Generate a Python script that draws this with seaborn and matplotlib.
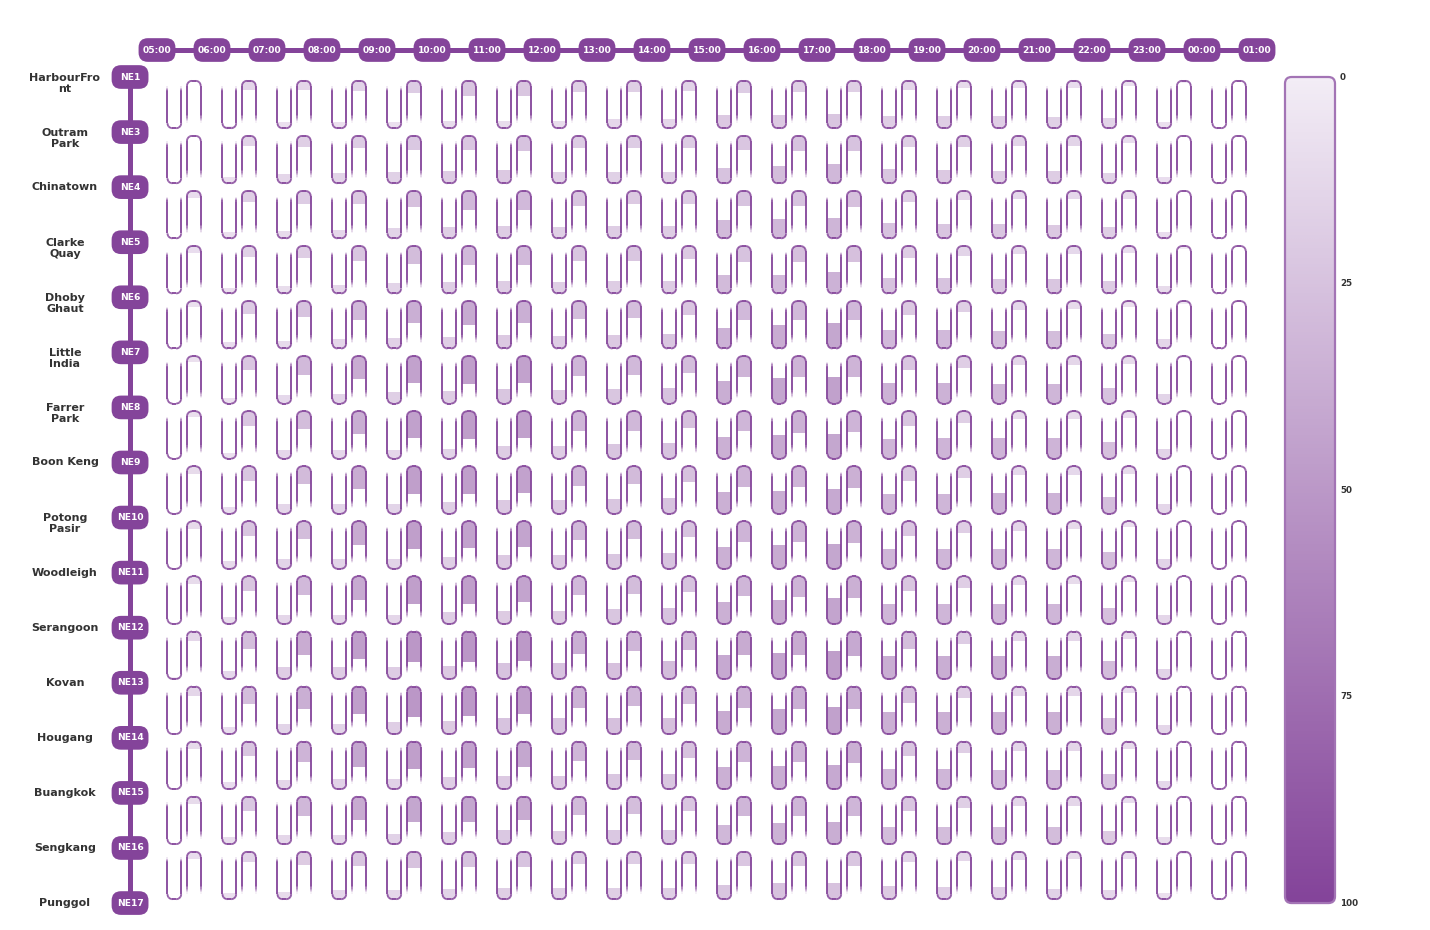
import numpy as np
import matplotlib
matplotlib.use("Agg")
import matplotlib.pyplot as plt
import seaborn as sns
from matplotlib.patches import FancyBboxPatch, Rectangle
from matplotlib.collections import LineCollection

sns.set_theme(style="white")
plt.rcParams['font.family'] = ['DejaVu Sans']

# ---------------- data ----------------
hours = ["05:00", "06:00", "07:00", "08:00", "09:00", "10:00", "11:00", "12:00",
         "13:00", "14:00", "15:00", "16:00", "17:00", "18:00", "19:00", "20:00",
         "21:00", "22:00", "23:00", "00:00", "01:00"]
codes = ["NE1", "NE3", "NE4", "NE5", "NE6", "NE7", "NE8", "NE9", "NE10", "NE11",
         "NE12", "NE13", "NE14", "NE15", "NE16", "NE17"]
stations = ["HarbourFro\nnt", "Outram\nPark", "Chinatown", "Clarke\nQuay", "Dhoby\nGhaut",
            "Little\nIndia", "Farrer\nPark", "Boon Keng", "Potong\nPasir", "Woodleigh",
            "Serangoon", "Kovan", "Hougang", "Buangkok", "Sengkang", "Punggol"]

# load towards Punggol (left glyph, filled from the bottom), per segment row / hour column
load_north = [
    [0, 6, 14, 14, 14, 17, 17, 17, 21, 21, 32, 32, 35, 28, 28, 28, 26, 24, 14, 0],
    [0, 14, 22, 24, 26, 29, 32, 26, 26, 26, 37, 42, 46, 35, 32, 29, 29, 24, 16, 0],
    [0, 14, 18, 21, 24, 27, 29, 27, 29, 29, 43, 46, 48, 37, 35, 35, 32, 27, 16, 0],
    [0, 14, 17, 21, 24, 27, 29, 27, 29, 29, 43, 45, 50, 37, 37, 35, 35, 29, 18, 0],
    [0, 16, 18, 22, 25, 28, 32, 30, 32, 35, 50, 55, 60, 45, 45, 42, 42, 35, 22, 0],
    [0, 14, 20, 24, 27, 29, 35, 32, 35, 37, 54, 60, 64, 50, 50, 47, 47, 37, 24, 0],
    [0, 14, 21, 21, 21, 24, 29, 29, 35, 37, 52, 57, 60, 47, 49, 49, 49, 39, 24, 0],
    [0, 16, 22, 24, 24, 27, 32, 32, 35, 37, 52, 54, 58, 47, 47, 50, 50, 41, 22, 0],
    [0, 18, 24, 24, 24, 27, 32, 32, 35, 37, 52, 56, 60, 47, 47, 47, 47, 41, 24, 0],
    [0, 17, 22, 22, 22, 28, 31, 31, 35, 37, 52, 56, 62, 47, 47, 47, 47, 39, 22, 0],
    [4, 20, 28, 29, 29, 32, 37, 37, 39, 42, 58, 62, 67, 54, 54, 54, 54, 42, 24, 0],
    [0, 16, 24, 24, 28, 31, 37, 37, 39, 39, 56, 60, 64, 52, 52, 52, 52, 39, 22, 0],
    [0, 16, 22, 25, 25, 28, 32, 32, 35, 35, 52, 54, 58, 47, 47, 45, 45, 37, 20, 0],
    [0, 17, 22, 22, 25, 28, 33, 31, 33, 33, 46, 51, 54, 42, 42, 42, 42, 31, 17, 0],
    [0, 14, 18, 21, 21, 24, 27, 27, 27, 27, 35, 38, 38, 31, 28, 28, 25, 21, 14, 0],
]
# load towards HarbourFront (right glyph, filled from the top)
load_south = [
    [3, 22, 22, 24, 30, 35, 35, 27, 27, 24, 30, 27, 27, 22, 18, 16, 16, 13, 5, 2],
    [2, 24, 27, 30, 33, 34, 37, 30, 30, 30, 34, 37, 37, 27, 27, 24, 24, 16, 3, 2],
    [16, 27, 30, 32, 39, 45, 45, 35, 32, 30, 37, 37, 39, 27, 22, 20, 20, 18, 3, 2],
    [16, 26, 29, 35, 42, 45, 45, 35, 35, 32, 37, 39, 39, 29, 24, 20, 20, 16, 7, 2],
    [13, 30, 37, 45, 53, 57, 53, 42, 40, 34, 45, 45, 45, 32, 27, 20, 18, 14, 6, 3],
    [14, 34, 45, 55, 63, 66, 63, 47, 45, 41, 49, 49, 49, 34, 28, 22, 22, 18, 5, 2],
    [14, 34, 42, 54, 64, 67, 64, 47, 46, 39, 47, 51, 49, 35, 27, 18, 18, 16, 3, 2],
    [18, 35, 43, 55, 66, 66, 63, 47, 43, 38, 49, 49, 52, 35, 28, 20, 20, 18, 3, 2],
    [18, 35, 42, 56, 66, 63, 62, 45, 42, 37, 49, 49, 51, 34, 28, 22, 18, 14, 2, 1],
    [18, 35, 45, 57, 66, 66, 62, 45, 42, 37, 47, 49, 52, 35, 28, 20, 18, 14, 2, 1],
    [22, 41, 55, 66, 72, 72, 70, 53, 47, 43, 56, 56, 58, 41, 30, 22, 22, 18, 5, 2],
    [22, 41, 53, 66, 72, 70, 66, 51, 47, 41, 51, 53, 53, 39, 28, 22, 22, 16, 3, 2],
    [18, 35, 49, 60, 66, 63, 60, 47, 43, 38, 49, 49, 52, 35, 28, 22, 22, 18, 3, 2],
    [18, 33, 46, 56, 60, 60, 56, 43, 41, 34, 47, 47, 47, 34, 27, 22, 22, 16, 3, 2],
    [16, 24, 31, 35, 38, 37, 37, 30, 30, 28, 34, 35, 35, 24, 22, 20, 18, 16, 6, 3],
]
cbar_ticks = [0, 25, 50, 75, 100]

# ---------------- style ----------------
PURPLE = "#84449a"
TEXT = "#333333"
cmap = sns.blend_palette(["#f3edf6", PURPLE], as_cmap=True)
FILL_ALPHA = 0.74

fig = plt.figure(figsize=(14.3, 9.3), dpi=100)
ax = fig.add_axes([0, 0, 1, 1])
XU, YU = 55.0, 55.07
X0PX, Y0PX = 157.0, 77.0
ax.set_xlim(-X0PX / XU, (1430 - X0PX) / XU)
ax.set_ylim((930 - Y0PX) / YU, -Y0PX / YU)
ax.axis("off")

n_st = len(codes)
n_hr = len(hours)

# ---- top hour line with pills ----
ax.plot([0, n_hr - 1], [-0.49, -0.49], color=PURPLE, lw=3.6, solid_capstyle="butt", zorder=1)
pw, ph = 0.67, 0.43
for i, h in enumerate(hours):
    p = FancyBboxPatch((i - pw / 2, -0.49 - ph / 2), pw, ph,
                       boxstyle="round,pad=0,rounding_size=0.17",
                       fc=PURPLE, ec="none", zorder=2)
    ax.add_patch(p)
    ax.text(i, -0.49, h, color="white", fontsize=6.6, fontweight="bold",
            ha="center", va="center", zorder=3)

# ---- left station line with pills ----
sx = -0.49
ax.plot([sx, sx], [0, n_st - 1], color=PURPLE, lw=3.6, solid_capstyle="butt", zorder=1)
for j, (code, name) in enumerate(zip(codes, stations)):
    p = FancyBboxPatch((sx - pw / 2, j - ph / 2), pw, ph,
                       boxstyle="round,pad=0,rounding_size=0.17",
                       fc=PURPLE, ec="none", zorder=2)
    ax.add_patch(p)
    ax.text(sx, j, code, color="white", fontsize=6.6, fontweight="bold",
            ha="center", va="center", zorder=3)
    nlines = name.count("\n") + 1
    if nlines == 1:
        ax.text(-1.673, j, name, color=TEXT, fontsize=8, fontweight="bold",
                ha="center", va="center")
    else:
        ax.text(-1.673, j - 0.075, name, color=TEXT, fontsize=8, fontweight="bold",
                ha="center", va="top", linespacing=1.1, multialignment="center")


# ---- glyph helpers ----
def u_polyline(x0, x1, top, bottom, r, n_side=30, n_arc=10):
    pts = []
    ys = np.linspace(top, bottom - r, n_side)
    pts += [(x0, y) for y in ys]
    t = np.linspace(np.pi, np.pi / 2, n_arc)
    pts += list(zip(x0 + r + r * np.cos(t), bottom - r + r * np.sin(t)))
    t = np.linspace(np.pi / 2, 0, n_arc)
    pts += list(zip(x1 - r + r * np.cos(t), bottom - r + r * np.sin(t)))
    ys = np.linspace(bottom - r, top, n_side)
    pts += [(x1, y) for y in ys]
    return np.array(pts)


H = 0.76
R = 0.09
FADE_L, FADE_R = 0.09, 0.15
rgb = np.array(matplotlib.colors.to_rgb(PURPLE))

segs_all, cols_all = [], []


def add_outline(x0, x1, top, bottom, open_top):
    pts = u_polyline(x0, x1, top, bottom, R)
    if not open_top:
        pts = pts.copy()
        pts[:, 1] = top + bottom - pts[:, 1]
    segs = np.stack([pts[:-1], pts[1:]], axis=1)
    mid = segs.mean(axis=1)[:, 1]
    if open_top:
        a = np.clip((mid - top) / FADE_L, 0, 1)
    else:
        a = np.clip((bottom - mid) / FADE_R, 0, 1)
    c = np.zeros((len(segs), 4))
    c[:, :3] = rgb
    c[:, 3] = a
    segs_all.append(segs)
    cols_all.append(c)


for r_ in range(n_st - 1):
    for c_ in range(n_hr - 1):
        # left glyph: open at the top, filled from the bottom
        lx0, lx1 = c_ + 0.19, c_ + 0.44
        ltop = r_ + 0.17
        lbot = ltop + H
        v = load_north[r_][c_]
        clip = FancyBboxPatch((lx0, ltop), lx1 - lx0, H,
                              boxstyle=f"round,pad=0,rounding_size={R}",
                              transform=ax.transData)
        if v > 0:
            hgt = v / 100 * H
            rect = Rectangle((lx0, lbot - hgt), lx1 - lx0, hgt,
                             fc=cmap(v / 100), alpha=FILL_ALPHA, ec="none", zorder=4)
            ax.add_patch(rect)
            rect.set_clip_path(clip)
        add_outline(lx0, lx1, ltop, lbot, open_top=True)

        # right glyph: open at the bottom, filled from the top
        rx0, rx1 = c_ + 0.545, c_ + 0.795
        rtop = r_ + 0.07
        rbot = rtop + H
        v = load_south[r_][c_]
        clip = FancyBboxPatch((rx0, rtop), rx1 - rx0, H,
                              boxstyle=f"round,pad=0,rounding_size={R}",
                              transform=ax.transData)
        if v > 0:
            hgt = v / 100 * H
            rect = Rectangle((rx0, rtop), rx1 - rx0, hgt,
                             fc=cmap(v / 100), alpha=FILL_ALPHA, ec="none", zorder=4)
            ax.add_patch(rect)
            rect.set_clip_path(clip)
        add_outline(rx0, rx1, rtop, rbot, open_top=False)

lc = LineCollection(np.concatenate(segs_all), colors=np.concatenate(cols_all),
                    linewidths=1.3, capstyle="butt", zorder=5)
ax.add_collection(lc)

# ---- colour bar ----
cb_x0 = (1285 - X0PX) / XU
cb_x1 = (1335 - X0PX) / XU
cb_top, cb_bot = 0.0, n_st - 1
grad = np.linspace(0, 1, 256).reshape(-1, 1)
im = ax.imshow(grad, cmap=cmap, extent=(cb_x0, cb_x1, cb_bot, cb_top),
               origin="upper", aspect="auto", zorder=2, interpolation="bilinear")
cb_patch = FancyBboxPatch((cb_x0, cb_top), cb_x1 - cb_x0, cb_bot - cb_top,
                          boxstyle="round,pad=0,rounding_size=0.12",
                          fc="none", ec="#a374b5", lw=1.6, zorder=3)
ax.add_patch(cb_patch)
im.set_clip_path(cb_patch)
for t in cbar_ticks:
    ax.text((1340 - X0PX) / XU, cb_top + t / 100 * (cb_bot - cb_top), str(t),
            color=TEXT, fontsize=6.3, fontweight="bold", ha="left", va="center")

ax.set_xlim(-X0PX / XU, (1430 - X0PX) / XU)
ax.set_ylim((930 - Y0PX) / YU, -Y0PX / YU)

fig.savefig("out.png", dpi=100, facecolor="white")
